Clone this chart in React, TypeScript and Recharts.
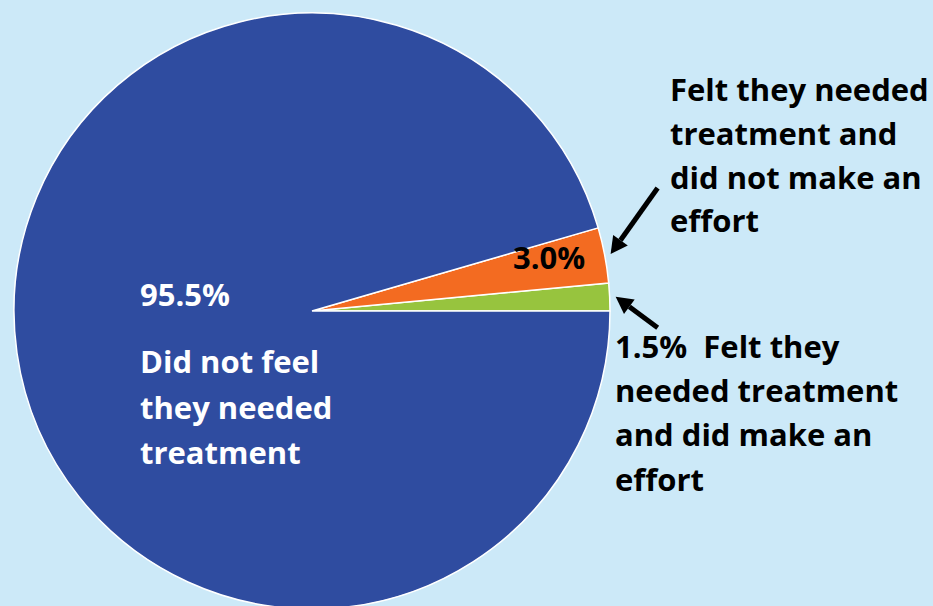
import React from 'react';
import { PieChart, Pie, Cell } from 'recharts';

// slice order: counter-clockwise from 3 o'clock
const groups = [
  'Felt they needed treatment and did make an effort',
  'Felt they needed treatment and did not make an effort',
  'Did not feel they needed treatment',
];
const shares = [1.5, 3.0, 95.5];
const shareLabels = ['1.5%', '3.0%', '95.5%'];
const colors = ['#97c43e', '#f36b21', '#2f4ca0'];

const data = groups.map((name, i) => ({ name, value: shares[i] }));

const FONT = '"Open Sans", Lato, sans-serif';
const RAD = Math.PI / 180;

const Arrow = ({ x1, y1, x2, y2 }: { x1: number; y1: number; x2: number; y2: number }) => {
  const a = Math.atan2(y2 - y1, x2 - x1);
  const len = 17;
  const half = 9;
  const bx = x2 - len * Math.cos(a);
  const by = y2 - len * Math.sin(a);
  const px = -Math.sin(a) * half;
  const py = Math.cos(a) * half;
  return (
    <g>
      <line x1={x1} y1={y1} x2={bx} y2={by} stroke="#000" strokeWidth={5} />
      <polygon points={`${x2},${y2} ${bx + px},${by + py} ${bx - px},${by - py}`} fill="#000" />
    </g>
  );
};

const renderLabel = (props: any) => {
  const { cx, cy, midAngle, outerRadius, index } = props;
  const tipX = cx + (outerRadius + 6) * Math.cos(-midAngle * RAD);
  const tipY = cy + (outerRadius + 6) * Math.sin(-midAngle * RAD);
  const txt = { fontFamily: FONT, fontWeight: 700, fontSize: 31 };

  if (index === 0) {
    const x = cx + 303;
    return (
      <g>
        <Arrow x1={tipX + 42} y1={tipY + 31} x2={tipX} y2={tipY} />
        <text {...txt} fill="#000">
          <tspan x={x} y={cy + 47}>{shareLabels[0]}{'\u00a0\u00a0'}Felt they</tspan>
          <tspan x={x} y={cy + 91}>needed treatment</tspan>
          <tspan x={x} y={cy + 135}>and did make an</tspan>
          <tspan x={x} y={cy + 180}>effort</tspan>
        </text>
      </g>
    );
  }
  if (index === 1) {
    const x = cx + 358;
    return (
      <g>
        <Arrow x1={tipX + 47} y1={tipY - 66} x2={tipX} y2={tipY} />
        <text {...txt} fill="#000" x={cx + 201} y={cy - 42}>{shareLabels[1]}</text>
        <text {...txt} fill="#000">
          <tspan x={x} y={cy - 210}>Felt they needed</tspan>
          <tspan x={x} y={cy - 166}>treatment and</tspan>
          <tspan x={x} y={cy - 122}>did not make an</tspan>
          <tspan x={x} y={cy - 79}>effort</tspan>
        </text>
      </g>
    );
  }
  const x = cx - 172;
  return (
    <text {...txt} fill="#fff">
      <tspan x={x} y={cy - 5}>{shareLabels[2]}</tspan>
      <tspan x={x} y={cy + 62}>Did not feel</tspan>
      <tspan x={x} y={cy + 108}>they needed</tspan>
      <tspan x={x} y={cy + 153}>treatment</tspan>
    </text>
  );
};

export default function App() {
  return (
    <div style={{ position: 'absolute', left: 0, top: 0, width: 933, height: 606, background: '#cce9f8', overflow: 'hidden' }}>
      <PieChart width={933} height={606} margin={{ top: 0, right: 0, bottom: 0, left: 0 }}>
        <Pie
          data={data}
          dataKey="value"
          nameKey="name"
          cx={312}
          cy={311}
          outerRadius={298}
          startAngle={0}
          endAngle={360}
          stroke="#ffffff"
          strokeWidth={1.5}
          label={renderLabel}
          labelLine={false}
          isAnimationActive={false}
        >
          {data.map((d, i) => (
            <Cell key={d.name} fill={colors[i]} />
          ))}
        </Pie>
      </PieChart>
    </div>
  );
}
